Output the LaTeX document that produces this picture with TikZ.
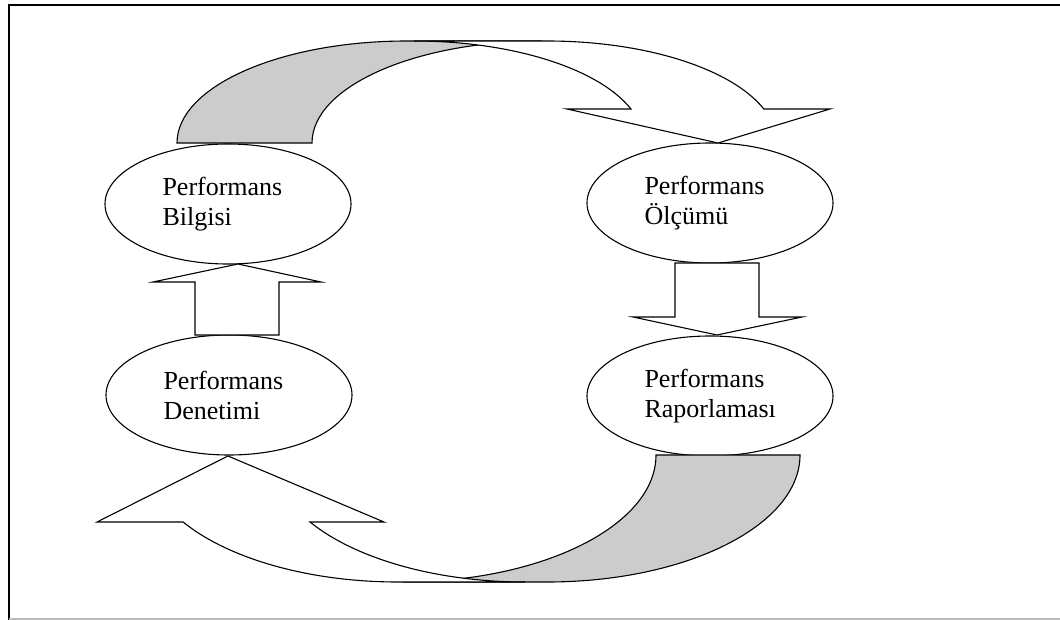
\documentclass[tikz,border=0pt]{standalone}
\usepackage{fontspec}
\setmainfont{Liberation Serif}
\usetikzlibrary{shapes.geometric}
\usetikzlibrary{calc}
\definecolor{bandgray}{HTML}{CCCCCC}
\definecolor{framegray}{HTML}{BBBBBB}

\begin{document}
\begin{tikzpicture}[x=1pt, y=-1pt,
    stage/.style={ellipse, draw, fill=white, line width=1.1pt,
      minimum width=246pt, minimum height=120pt, inner sep=0pt, outer sep=0pt,
      text width=131pt, align=left, font=\fontsize{26}{30}\selectfont},
    band/.style={draw, line width=1.1pt, line join=miter}]
      \useasboundingbox (0,0) rectangle (1060,620);
      \draw[line width=2pt] (9,620) -- (9,5) -- (1060,5);
      \draw[framegray, line width=1.5pt] (9,619) -- (1060,619);

      \node[stage] (bilgi) at (228,204) {Performans\\Bilgisi};
      \node[stage] (olcum) at (710,203) {Performans\\Ölçümü};
      \node[stage] (denetim) at (229,395) {Performans\\Denetimi};
      \node[stage] (rapor) at (710,396) {Performans\\Raporlaması};

      % top curved arrow
      \draw[band, fill=bandgray] (177,143)
        arc[start angle=180, end angle=270, x radius=230, y radius=102] -- (542,41)
        arc[start angle=270, end angle=180, x radius=230, y radius=102] -- cycle;
      \draw[band, fill=white] (414,41) -- (547,41)
        arc[start angle=270, end angle=340.53, x radius=230, y radius=102]
        -- (830,109) -- ($(olcum.north)+(8,0)$) -- (567,109) -- (631,109)
        arc[start angle=340.53, end angle=270, x radius=230, y radius=102] -- cycle;

      % bottom curved arrow
      \draw[band, fill=bandgray] (800,455)
        arc[start angle=0, end angle=90, x radius=253, y radius=127] -- (403,582)
        arc[start angle=90, end angle=0, x radius=253, y radius=127] -- cycle;
      \draw[band, fill=white] (525,582) -- (398,582)
        arc[start angle=90, end angle=148.16, x radius=253, y radius=127]
        -- (97,522) -- ($(denetim.south)+(-1,1)$) -- (384,522) -- (310,522)
        arc[start angle=148.16, end angle=90, x radius=253, y radius=127] -- cycle;

      \begin{scope}[shift={(bilgi.south)}]
        \draw[band, fill=white] (-33,71) -- (-33,18) -- (-75,18) -- (10,0)
          -- (93,18) -- (51,18) -- (51,71) -- cycle;
      \end{scope}
      \begin{scope}[shift={(olcum.south)}]
        \draw[band, fill=white] (-35,0) -- (-35,54) -- (-77,54) -- (7,72)
          -- (92,54) -- (49,54) -- (49,0) -- cycle;
      \end{scope}
    \end{tikzpicture}
\end{document}
